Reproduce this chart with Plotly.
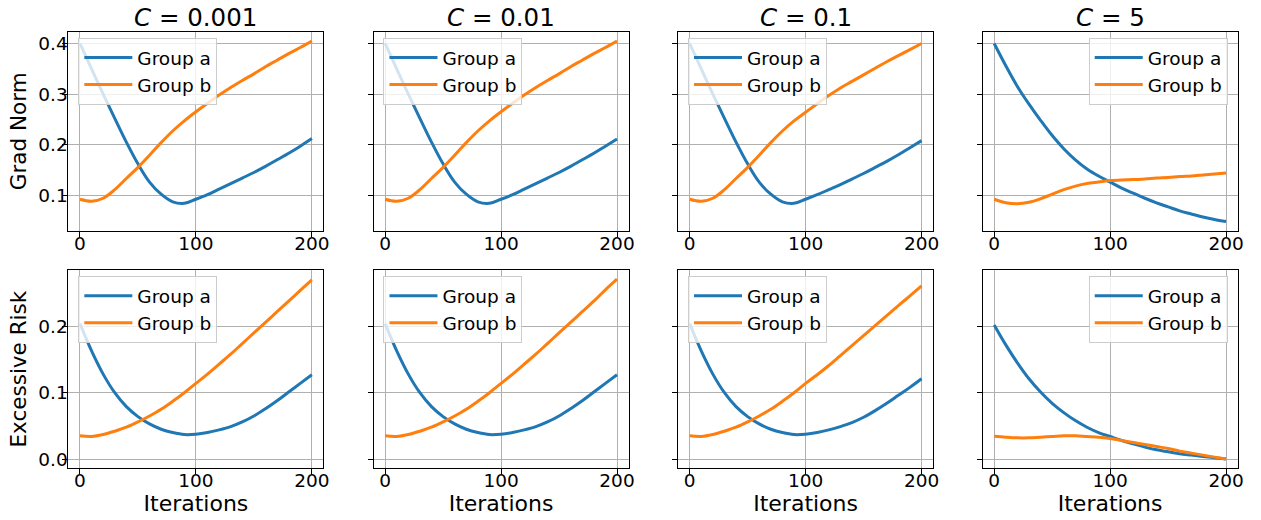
import plotly.graph_objects as go

# Iteration grid shared by every curve
iterations = [0, 10, 20, 30, 40, 50, 60, 70, 80, 90, 100,
              110, 120, 130, 140, 150, 160, 170, 180, 190, 200]

c_values = ["0.001", "0.01", "0.1", "5"]

# Gradient norm, group a / group b, one list per C
grad_a_c0001 = [0.400, 0.350, 0.300, 0.252, 0.205, 0.162, 0.126, 0.102, 0.087, 0.084, 0.092,
                0.101, 0.112, 0.123, 0.134, 0.145, 0.157, 0.170, 0.183, 0.197, 0.212]
grad_b_c0001 = [0.092, 0.088, 0.094, 0.111, 0.133, 0.155, 0.179, 0.204, 0.227, 0.247, 0.265,
                0.282, 0.298, 0.313, 0.327, 0.340, 0.354, 0.367, 0.380, 0.392, 0.405]
grad_a_c001 = [0.400, 0.350, 0.300, 0.252, 0.205, 0.162, 0.126, 0.102, 0.087, 0.084, 0.092,
               0.101, 0.112, 0.123, 0.134, 0.145, 0.157, 0.170, 0.183, 0.197, 0.211]
grad_b_c001 = [0.092, 0.088, 0.094, 0.111, 0.133, 0.155, 0.179, 0.204, 0.227, 0.247, 0.265,
               0.282, 0.298, 0.313, 0.327, 0.340, 0.354, 0.367, 0.380, 0.392, 0.405]
grad_a_c01 = [0.400, 0.350, 0.300, 0.252, 0.205, 0.162, 0.126, 0.102, 0.087, 0.084, 0.092,
              0.101, 0.111, 0.121, 0.132, 0.143, 0.155, 0.167, 0.180, 0.194, 0.208]
grad_b_c01 = [0.092, 0.088, 0.094, 0.111, 0.133, 0.155, 0.179, 0.204, 0.227, 0.247, 0.264,
              0.281, 0.297, 0.312, 0.325, 0.338, 0.351, 0.364, 0.376, 0.388, 0.400]
grad_a_c5 = [0.400, 0.356, 0.315, 0.280, 0.248, 0.218, 0.192, 0.170, 0.152, 0.138, 0.126,
             0.114, 0.104, 0.094, 0.085, 0.077, 0.069, 0.063, 0.057, 0.052, 0.048]
grad_b_c5 = [0.092, 0.085, 0.083, 0.086, 0.093, 0.102, 0.111, 0.118, 0.123, 0.126, 0.129,
             0.130, 0.131, 0.132, 0.134, 0.135, 0.137, 0.138, 0.140, 0.142, 0.144]

# Excessive risk, group a / group b, one list per C
risk_a_c0001 = [0.204, 0.163, 0.128, 0.100, 0.079, 0.064, 0.053, 0.045, 0.040, 0.037, 0.0375,
                0.040, 0.044, 0.049, 0.056, 0.065, 0.076, 0.088, 0.101, 0.114, 0.127]
risk_b_c0001 = [0.035, 0.034, 0.037, 0.042, 0.048, 0.056, 0.065, 0.075, 0.087, 0.100, 0.114,
                0.128, 0.143, 0.158, 0.174, 0.190, 0.206, 0.222, 0.238, 0.254, 0.270]
risk_a_c001 = [0.204, 0.163, 0.128, 0.100, 0.079, 0.064, 0.053, 0.045, 0.040, 0.037, 0.0375,
               0.040, 0.044, 0.049, 0.056, 0.065, 0.076, 0.088, 0.101, 0.114, 0.127]
risk_b_c001 = [0.035, 0.034, 0.037, 0.042, 0.048, 0.056, 0.065, 0.075, 0.087, 0.100, 0.114,
               0.128, 0.143, 0.158, 0.174, 0.190, 0.206, 0.222, 0.238, 0.255, 0.271]
risk_a_c01 = [0.204, 0.163, 0.128, 0.100, 0.079, 0.064, 0.053, 0.045, 0.040, 0.037, 0.0375,
              0.040, 0.044, 0.049, 0.055, 0.063, 0.073, 0.084, 0.096, 0.108, 0.121]
risk_b_c01 = [0.035, 0.034, 0.037, 0.042, 0.048, 0.056, 0.065, 0.075, 0.087, 0.100, 0.114,
              0.127, 0.141, 0.156, 0.171, 0.186, 0.201, 0.216, 0.231, 0.246, 0.261]
risk_a_c5 = [0.202, 0.172, 0.145, 0.121, 0.101, 0.084, 0.070, 0.058, 0.048, 0.040, 0.034,
             0.028, 0.023, 0.018, 0.014, 0.011, 0.008, 0.006, 0.004, 0.002, 0.000]
risk_b_c5 = [0.0344, 0.033, 0.032, 0.032, 0.033, 0.034, 0.035, 0.035, 0.034, 0.033, 0.031,
             0.028, 0.025, 0.022, 0.019, 0.016, 0.012, 0.009, 0.006, 0.003, 0.000]

rows = [
    ("Grad Norm", [(grad_a_c0001, grad_b_c0001), (grad_a_c001, grad_b_c001),
                   (grad_a_c01, grad_b_c01), (grad_a_c5, grad_b_c5)], [0.1, 0.2, 0.3, 0.4]),
    ("Excessive Risk", [(risk_a_c0001, risk_b_c0001), (risk_a_c001, risk_b_c001),
                        (risk_a_c01, risk_b_c01), (risk_a_c5, risk_b_c5)], [0.0, 0.1, 0.2]),
]

BLUE = "#1f77b4"
ORANGE = "#ff7f0e"
FONT = "DejaVu Sans"
W, H = 1261, 520

panel_left = [68.7, 375.3, 681.3, 987.3]
panel_w = 256.3
row_top = [32.0, 270.7]
row_bottom = [231.0, 469.0]


def padded(lo, hi, frac=0.05):
    span = hi - lo
    return [lo - frac * span, hi + frac * span]


fig = go.Figure()
layout = dict(
    width=W, height=H,
    margin=dict(l=0, r=0, t=0, b=0),
    paper_bgcolor="white", plot_bgcolor="white",
    font=dict(family=FONT, color="black", size=18.5),
    annotations=[],
)

for r, (ylabel, series, yticks) in enumerate(rows):
    all_vals = [v for pair in series for s in pair for v in s]
    yrange = padded(min(all_vals), max(all_vals))
    for c, (vals_a, vals_b) in enumerate(series):
        n = r * 4 + c + 1
        xa = "x" if n == 1 else f"x{n}"
        ya = "y" if n == 1 else f"y{n}"
        leg = "legend" if n == 1 else f"legend{n}"

        fig.add_trace(go.Scatter(x=iterations, y=vals_a, name="Group a", mode="lines",
                                 line=dict(color=BLUE, width=3, shape="spline", smoothing=1.0),
                                 xaxis=xa, yaxis=ya, legend=leg))
        fig.add_trace(go.Scatter(x=iterations, y=vals_b, name="Group b", mode="lines",
                                 line=dict(color=ORANGE, width=3, shape="spline", smoothing=1.0),
                                 xaxis=xa, yaxis=ya, legend=leg))

        x0 = panel_left[c] / W
        x1 = (panel_left[c] + panel_w) / W
        y0 = 1 - row_bottom[r] / H
        y1 = 1 - row_top[r] / H

        common = dict(showline=True, linecolor="black", linewidth=1, mirror=True,
                      showgrid=True, gridcolor="#b0b0b0", gridwidth=1, zeroline=False,
                      ticks="outside", ticklen=5, tickwidth=1, tickcolor="black",
                      tickfont=dict(family=FONT, size=18.5, color="black"))

        xaxis = dict(domain=[x0, x1], anchor=ya, range=[-10, 210],
                     tickvals=[0, 100, 200], ticktext=["0", "100", "200"],
                     ticklabelstandoff=-9, **common)
        if r == 1:
            xaxis["title"] = dict(text="Iterations", font=dict(family=FONT, size=22), standoff=0)
        yaxis = dict(domain=[y0, y1], anchor=xa, range=yrange,
                     tickvals=yticks, ticktext=[f"{t:.1f}" for t in yticks],
                     showticklabels=(c == 0), ticklabelstandoff=-9, **common)
        if c == 0:
            yaxis["title"] = dict(text=ylabel, font=dict(family=FONT, size=21.5), standoff=5)

        layout["xaxis" if n == 1 else f"xaxis{n}"] = xaxis
        layout["yaxis" if n == 1 else f"yaxis{n}"] = yaxis

        if c < 3:
            lx, lanchor = (panel_left[c] + 10) / W, "left"
        else:
            lx, lanchor = (panel_left[c] + panel_w - 10) / W, "right"
        layout[leg] = dict(x=lx, xanchor=lanchor, y=1 - (row_top[r] + 6) / H, yanchor="top",
                           bgcolor="rgba(255,255,255,0.8)", bordercolor="#cccccc", borderwidth=1,
                           font=dict(family=FONT, size=18.5, color="black"),
                           itemwidth=48, tracegroupgap=0)

        if r == 0:
            layout["annotations"].append(dict(
                text=f"<i>C</i> = {c_values[c]}", x=(panel_left[c] + panel_w / 2) / W,
                y=1 - 18 / H, xref="paper", yref="paper", xanchor="center", yanchor="middle",
                showarrow=False, font=dict(family=FONT, size=24.5, color="black")))

fig.update_layout(**layout)
fig.write_html("out.html")
